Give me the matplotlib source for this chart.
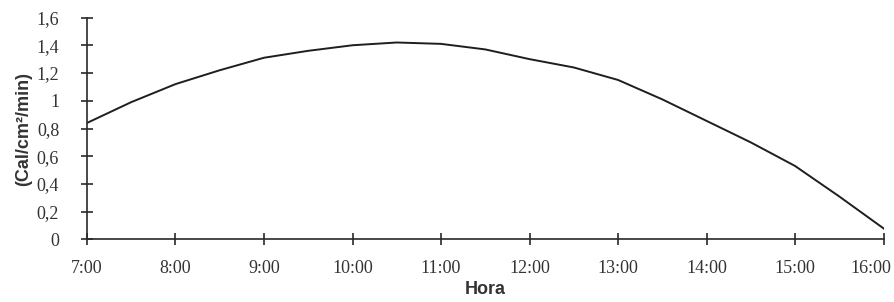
import matplotlib
matplotlib.use('Agg')
from matplotlib import pyplot as plt
from matplotlib.transforms import ScaledTranslation

# horas (en horas decimales) y radiación
horas = [7, 7.5, 8, 8.5, 9, 9.5, 10, 10.5, 11, 11.5, 12, 12.5, 13, 13.5, 14, 14.5, 15, 15.5, 16]
radiacion = [0.84, 0.99, 1.12, 1.22, 1.31, 1.36, 1.40, 1.42, 1.41, 1.37, 1.30, 1.24, 1.15, 1.01, 0.855, 0.70, 0.53, 0.31, 0.08]

x_ticks = [7, 8, 9, 10, 11, 12, 13, 14, 15, 16]
x_labels = ['7:00', '8:00', '9:00', '10:00', '11:00', '12:00', '13:00', '14:00', '15:00', '16:00']
y_ticks = [0, 0.2, 0.4, 0.6, 0.8, 1.0, 1.2, 1.4, 1.6]
y_labels = ['0', '0,2', '0,4', '0,6', '0,8', '1', '1,2', '1,4', '1,6']

fig = plt.figure(figsize=(8.94, 3.02), dpi=100)
ax = fig.add_axes([0.0973, 0.207, 0.891, 0.735])

ax.plot(horas, radiacion, color='#1e1e1e', linewidth=1.4)

ax.set_xlim(7, 16)
ax.set_ylim(0, 1.6)
ax.spines['top'].set_visible(False)
ax.spines['right'].set_visible(False)
for s in ['left', 'bottom']:
    ax.spines[s].set_color('#2a2a2a')
    ax.spines[s].set_linewidth(1.2)

ax.set_xticks(x_ticks)
ax.set_xticklabels(x_labels, family='Liberation Serif', fontsize=13, color='#333333')
ax.set_yticks(y_ticks)
ax.set_yticklabels(y_labels, family='Liberation Serif', fontsize=13, color='#333333')
ax.tick_params(axis='x', direction='inout', length=8, width=1.2, color='#2a2a2a', pad=11)
ax.tick_params(axis='y', direction='inout', length=8, width=1.2, color='#2a2a2a', pad=16)

# la última etiqueta va un poco a la izquierda para que quepa
ult = ax.get_xticklabels()[-1]
ult.set_transform(ult.get_transform() + ScaledTranslation(-0.13, 0, fig.dpi_scale_trans))

ax.set_xlabel('Hora', family='Liberation Sans', fontweight='bold', fontsize=13, color='#333333', labelpad=3)
ax.set_ylabel('(Cal/cm²/min)', family='Liberation Sans', fontweight='bold', fontsize=13, color='#333333', labelpad=3)

plt.savefig('out.png', dpi=100)
